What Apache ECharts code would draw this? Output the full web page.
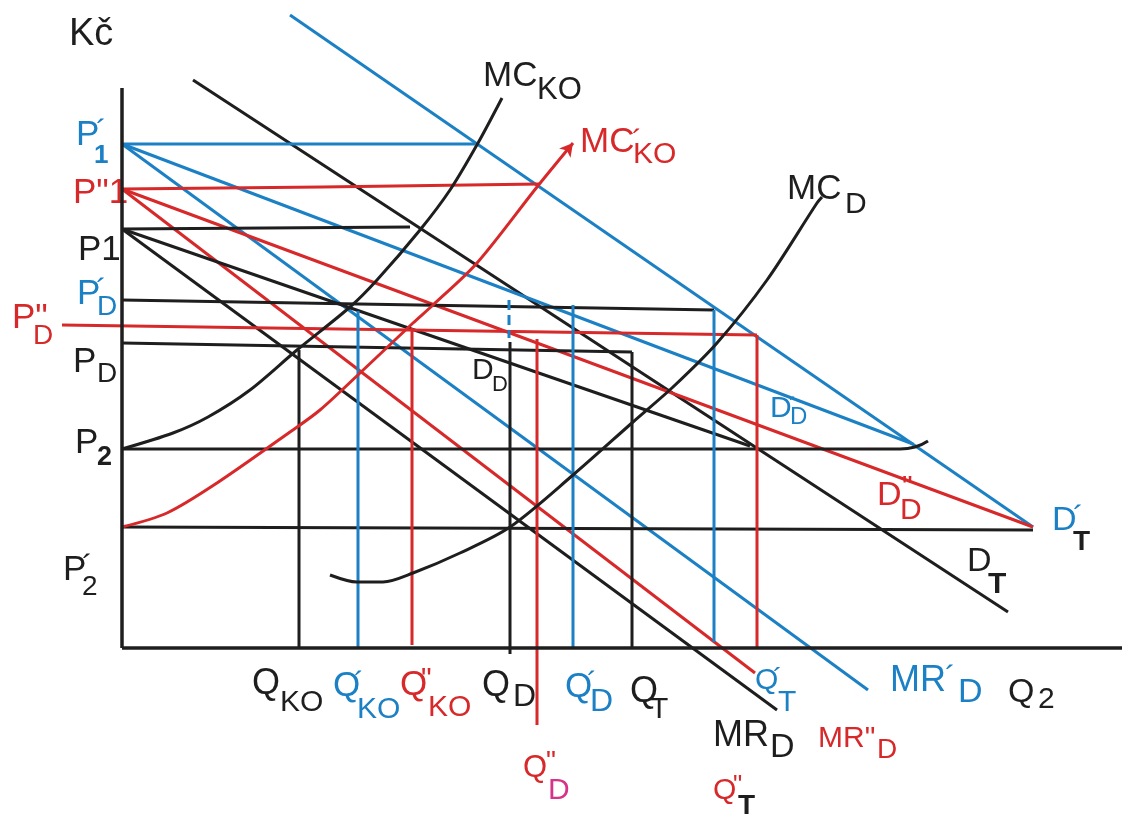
<!DOCTYPE html>
<html>
<head>
<meta charset="utf-8">
<script src="https://cdn.jsdelivr.net/npm/echarts@6/dist/echarts.min.js"></script>
<style>
  html, body { margin: 0; padding: 0; background: #fff; }
  #main { width: 1122px; height: 814px; }
</style>
</head>
<body>
<div id="main"></div>
<script>
const BLACK = '#1e1e1e'
const BLUE = '#1b80c4'
const RED = '#d7282a'
const PINK = '#d6338a'

// axes (quantity, price)
const axisP = [[0, 0], [0, 56]]
const axisQ = [[0, 0], [100, 0]]

// horizontal price levels
const priceP1a = [[0, 50.4], [35.3, 50.4]]
const priceP1b = [[0, 45.9], [20, 46.1], [41.8, 46.4]]
const priceP1 = [[0, 41.9], [28.8, 42.1]]
const pricePDa = [[0, 34.8], [59.2, 33.8]]
const pricePDb = [[-6, 32.3], [63.5, 31.3]]
const pricePD = [[0, 30.5], [51, 29.6]]
const priceP2 = [[0, 19.9], [77.8, 19.9], [79.3, 20.1], [80.6, 20.7]]
const priceP2a = [[0, 12.1], [91.1, 11.8]]

// quantity drop lines
const qKO = [[17.7, 29.8], [17.7, 0]]
const qKOa = [[23.6, 33.7], [23.6, 0]]
const qKOb = [[29.0, 32.0], [29.0, 0.3]]
const qD = [[38.8, 30.6], [38.8, -0.6]]
const qDdash = [[38.7, 34.8], [38.7, 31.0]]
const qDb = [[41.5, 30.9], [41.5, -7.7]]
const qDa = [[45.1, 34.3], [45.1, 0]]
const qT = [[51.0, 29.6], [51.0, 0]]
const qTa = [[59.2, 33.8], [59.2, 0.6]]
const qTb = [[63.5, 31.3], [63.5, 0]]

// demand / marginal revenue lines
const demandTa = [[16.8, 63.3], [91.1, 12.1]]
const demandT = [[7.1, 56.8], [88.6, 3.6]]
const demandDa = [[0, 50.4], [79.1, 20.4]]
const mrDa = [[0, 50.4], [74.6, -4.2]]
const demandDb = [[0, 45.9], [91.1, 12.1]]
const mrDb = [[0, 45.9], [63.3, -2.5]]
const demandD = [[0, 41.9], [62.8, 20.2]]
const mrD = [[0, 41.9], [65.5, -6.2]]

// marginal cost curves
const mcKO = [[0, 19.9], [5.1, 21.5], [8.6, 23.1], [12.8, 25.8], [17.5, 29.8], [22.8, 34.1],
  [25.5, 36.8], [29.8, 41.8], [32.8, 45.8], [35.6, 50.5], [38, 55]]
const mcKOa = [[0, 12.1], [4.5, 13.5], [9.5, 16.5], [16.8, 21.6], [19.8, 23.8], [23.8, 27.5],
  [29.1, 32.5], [31.1, 34.3], [35.5, 38.5], [41.5, 46.1], [45.1, 50.5]]
const mcD = [[20.8, 7.3], [23.5, 6.6], [26.1, 6.6], [29.1, 7.5], [33.8, 9.5], [38.8, 12.1],
  [45.1, 17.3], [51.1, 22.6], [55.1, 26.1], [59.5, 30.5], [64.5, 36.8], [69.5, 44.5], [70, 45.1]]

function line(data, color, opts) {
  return Object.assign({
    type: 'line',
    data: data,
    symbol: 'none',
    silent: true,
    animation: false,
    lineStyle: { color: color, width: 3 }
  }, opts || {})
}

const mcKOaData = mcKOa.map((d, i) => i === mcKOa.length - 1
  ? { value: d, symbol: 'arrow', symbolSize: [11, 13], symbolRotate: -39, itemStyle: { color: RED } }
  : { value: d, symbol: 'none' })

const series = [
  line(demandTa, BLUE),
  line(demandT, BLACK),
  line(demandDa, BLUE),
  line(mrDa, BLUE),
  line(demandDb, RED),
  line(mrDb, RED),
  line(demandD, BLACK),
  line(mrD, BLACK),
  line(priceP1a, BLUE),
  line(priceP1b, RED, { smooth: true }),
  line(priceP1, BLACK),
  line(pricePDa, BLACK),
  line(pricePDb, RED),
  line(pricePD, BLACK),
  line(priceP2, BLACK, { smooth: true }),
  line(priceP2a, BLACK),
  line(qKO, BLACK),
  line(qKOa, BLUE),
  line(qKOb, RED),
  line(qD, BLACK),
  line(qDdash, BLUE, { lineStyle: { color: BLUE, width: 3, type: [10, 5] } }),
  line(qDb, RED),
  line(qDa, BLUE),
  line(qT, BLACK),
  line(qTa, BLUE),
  line(qTb, RED),
  line(mcKO, BLACK, { smooth: 0.3 }),
  line(mcKOaData, RED, { smooth: 0.3, showSymbol: true }),
  line(mcD, BLACK, { smooth: 0.3 }),
  line(axisP, BLACK, { lineStyle: { color: BLACK, width: 3.5 } }),
  line(axisQ, BLACK, { lineStyle: { color: BLACK, width: 3.5 } })
]

// label pieces: text, left, middle y, size, colour, bold
const labels = [
  ['Kč', 69, 35, 38, BLACK],
  ['P', 76, 135, 35, BLUE], ['´', 96, 133, 32, BLUE], ['1', 94, 156, 26, BLUE, true],
  ['P"1', 73, 193, 35, RED],
  ['P1', 78, 250, 35, BLACK],
  ['P', 77, 294, 35, BLUE], ['´', 96, 292, 32, BLUE], ['D', 97, 307, 28, BLUE],
  ['P"', 12, 318, 35, RED], ['D', 33, 336, 28, RED],
  ['P', 73, 362, 35, BLACK], ['D', 97, 374, 28, BLACK],
  ['P', 75, 443, 35, BLACK], ['2', 97, 458, 27, BLACK, true],
  ['P', 63, 570, 35, BLACK], ['´', 82, 568, 32, BLACK], ['2', 82, 587, 28, BLACK],
  ['MC', 483, 76, 35, BLACK], ['KO', 537, 90, 31, BLACK],
  ['MC', 580, 142, 35, RED], ['´', 632, 142, 30, RED], ['KO', 633, 155, 30, RED],
  ['MC', 787, 189, 35, BLACK], ['D', 845, 205, 30, BLACK],
  ['D', 472, 371, 30, BLACK], ['D', 492, 385, 22, BLACK],
  ['D', 770, 409, 30, BLUE], ['´', 789, 407, 22, BLUE], ['D', 790, 417, 24, BLUE],
  ['D', 877, 496, 34, RED], ['"', 902, 488, 30, RED], ['D', 900, 511, 30, RED],
  ['D', 1052, 521, 34, BLUE], ['´', 1073, 519, 32, BLUE], ['T', 1073, 542, 28, BLACK, true],
  ['D', 967, 562, 34, BLACK], ['T', 988, 585, 30, BLACK, true],
  ['Q', 252, 684, 36, BLACK], ['KO', 280, 703, 30, BLACK],
  ['Q', 333, 686, 35, BLUE], ['´', 354, 684, 30, BLUE], ['KO', 357, 710, 30, BLUE],
  ['Q', 400, 685, 35, RED], ['"', 421, 680, 30, RED], ['KO', 428, 708, 30, RED],
  ['Q', 482, 686, 36, BLACK], ['D', 513, 697, 32, BLACK],
  ['Q', 565, 687, 35, BLUE], ['´', 587, 684, 30, BLUE], ['D', 590, 702, 32, BLUE],
  ['Q', 630, 692, 36, BLACK], ['T', 650, 710, 30, BLACK],
  ['Q', 523, 768, 31, RED], ['"', 546, 762, 28, RED], ['D', 548, 791, 30, PINK],
  ['Q', 755, 681, 30, BLUE], ['´', 773, 679, 28, BLUE], ['T', 778, 703, 30, BLUE],
  ['MR', 890, 681, 36, BLUE], ['´', 945, 679, 32, BLUE], ['D', 958, 693, 34, BLUE],
  ['Q', 1008, 693, 34, BLACK], ['2', 1038, 700, 30, BLACK],
  ['MR', 713, 736, 36, BLACK], ['D', 770, 748, 34, BLACK],
  ['MR"', 818, 739, 30, RED], ['D', 877, 750, 28, RED],
  ['Q', 713, 791, 30, RED], ['"', 733, 786, 26, RED], ['T', 738, 806, 28, BLACK, true]
]

const graphic = labels.map(([text, x, y, size, color, bold]) => ({
  type: 'text',
  x: x,
  y: y,
  silent: true,
  style: {
    text: text,
    fill: color,
    font: (bold ? 'bold ' : '') + size + 'px "Liberation Sans", Arial, sans-serif',
    align: 'left',
    verticalAlign: 'middle'
  }
}))

const chart = echarts.init(document.getElementById('main'))
chart.setOption({
  animation: false,
  backgroundColor: '#fff',
  grid: { left: 0, right: 0, top: 0, bottom: 0 },
  xAxis: { type: 'value', min: -12.2, max: 100, show: false },
  yAxis: { type: 'value', min: -16.6, max: 64.8, show: false },
  series: series,
  graphic: graphic
})
</script>
</body>
</html>
